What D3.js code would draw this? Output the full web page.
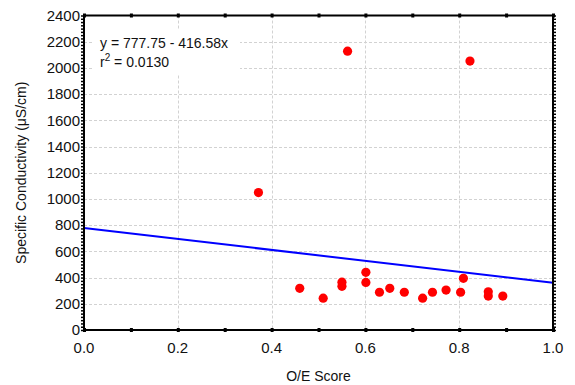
<!DOCTYPE html>
<html>
<head>
<meta charset="utf-8">
<script src="https://cdn.jsdelivr.net/npm/d3@7/dist/d3.min.js"></script>
<style>
  html, body { margin: 0; padding: 0; background: #fff; }
  svg { display: block; font-family: "Liberation Sans", Arial, sans-serif; }
</style>
</head>
<body>
<svg id="chart" width="575" height="385"></svg>
<script>
// ---- data ----
const oeScore = [0.372, 0.562, 0.823, 0.46, 0.51, 0.55, 0.55, 0.601, 0.601, 0.63, 0.652, 0.683, 0.722, 0.743, 0.772, 0.803, 0.809, 0.862, 0.862, 0.893];
const conductivity = [1049, 2128, 2052, 318, 243, 365, 333, 440, 363, 288, 318, 288, 243, 288, 305, 288, 394, 291, 259, 259];
const intercept = 777.75;
const slope = -416.58;
const xTicks = [0.0, 0.2, 0.4, 0.6, 0.8, 1.0];
const yTicks = [0, 200, 400, 600, 800, 1000, 1200, 1400, 1600, 1800, 2000, 2200, 2400];
const eqText = "y = 777.75 - 416.58x";
const r2Value = "0.0130";
const xTitle = "O/E Score";
const yTitle = "Specific Conductivity (\u03BCS/cm)";

// ---- layout ----
const W = 575, H = 385;
const m = { left: 84, right: 22, top: 15.5, bottom: 55 };
const svg = d3.select("#chart");
const x = d3.scaleLinear().domain([0, 1]).range([m.left, W - m.right]);
const y = d3.scaleLinear().domain([0, 2400]).range([H - m.bottom, m.top]);

// grid
const grid = svg.append("g").attr("stroke", "#d2d2d2").attr("stroke-dasharray", "3,2").attr("stroke-width", 1);
grid.selectAll(".gx").data(xTicks.slice(1, -1)).join("line")
  .attr("x1", d => Math.round(x(d)) + 0.5).attr("x2", d => Math.round(x(d)) + 0.5)
  .attr("y1", y(2400)).attr("y2", y(0));
grid.selectAll(".gy").data(yTicks.slice(1, -1)).join("line")
  .attr("y1", d => Math.round(y(d)) + 0.5).attr("y2", d => Math.round(y(d)) + 0.5)
  .attr("x1", x(0)).attr("x2", x(1));

// annotation box (white background)
svg.append("rect").attr("x", 94).attr("y", 30).attr("width", 146).attr("height", 44).attr("fill", "#fff");
const ann = svg.append("g").attr("font-size", 14).attr("fill", "#111");
ann.append("text").attr("x", 100).attr("y", 48).text(eqText);
const r2 = ann.append("text").attr("x", 100).attr("y", 67);
r2.append("tspan").text("r");
r2.append("tspan").attr("font-size", 10).attr("dy", -6).text("2");
r2.append("tspan").attr("dy", 6).text(" = " + r2Value);

// regression line
svg.append("line")
  .attr("x1", x(0)).attr("y1", y(intercept + slope * 0))
  .attr("x2", x(1)).attr("y2", y(intercept + slope * 1))
  .attr("stroke", "#0000ff").attr("stroke-width", 2);

// points
svg.append("g").selectAll("circle").data(oeScore).join("circle")
  .attr("cx", d => x(d)).attr("cy", (d, i) => y(conductivity[i]))
  .attr("r", 4.6).attr("fill", "#ff0000");

// axes
const minorY = d3.range(0, 2401, 25);
const minorX = d3.range(0, 1.0001, 0.1);
const axL = svg.append("g").attr("transform", `translate(${m.left},0)`)
  .call(d3.axisLeft(y).tickValues(minorY).tickSize(3).tickFormat(""));
const axR = svg.append("g").attr("transform", `translate(${W - m.right},0)`)
  .call(d3.axisRight(y).tickValues(minorY).tickSize(3).tickFormat(""));
const axB = svg.append("g").attr("transform", `translate(0,${H - m.bottom})`)
  .call(d3.axisBottom(x).tickValues(minorX).tickSize(2).tickFormat(""));
const axT = svg.append("g").attr("transform", `translate(0,${m.top})`)
  .call(d3.axisTop(x).tickValues(minorX).tickSize(2).tickFormat(""));
[axL, axR, axB, axT].forEach(a => {
  a.select(".domain").remove();
  a.selectAll(".tick line").attr("stroke", "#000").attr("stroke-width", 1.5);
});
axB.selectAll(".tick line").attr("y1", -2).attr("y2", 2).attr("stroke-width", 3);
axT.selectAll(".tick line").attr("y1", -2).attr("y2", 2).attr("stroke-width", 3);

// frame
svg.append("rect").attr("x", m.left).attr("y", m.top)
  .attr("width", W - m.left - m.right).attr("height", H - m.top - m.bottom)
  .attr("fill", "none").attr("stroke", "#000").attr("stroke-width", 2);

// tick labels
const lab = svg.append("g").attr("font-size", 15).attr("fill", "#111");
lab.selectAll(".yl").data(yTicks).join("text")
  .attr("x", m.left - 4).attr("y", d => y(d)).attr("dy", "0.35em")
  .attr("text-anchor", "end").text(d => d);
lab.selectAll(".xl").data(xTicks).join("text")
  .attr("x", d => x(d)).attr("y", H - m.bottom + 23)
  .attr("text-anchor", "middle").text(d => d3.format(".1f")(d));

// titles
svg.append("text").attr("x", (x(0) + x(1)) / 2).attr("y", 381)
  .attr("text-anchor", "middle").attr("font-size", 14).attr("fill", "#111").text(xTitle);
svg.append("text").attr("transform", `translate(26,${(y(0) + y(2400)) / 2}) rotate(-90)`)
  .attr("text-anchor", "middle").attr("font-size", 14).attr("fill", "#111").text(yTitle);
</script>
</body>
</html>
